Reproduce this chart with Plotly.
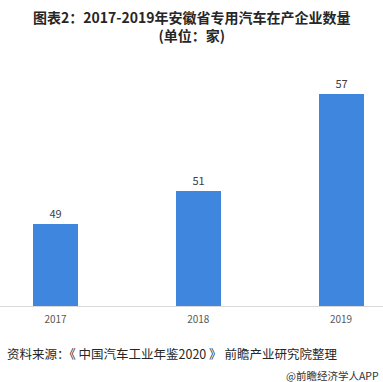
import plotly.graph_objects as go

years = ["2017", "2018", "2019"]
counts = [49, 51, 57]

title_line1 = "图表2：2017-2019年安徽省专用汽车在产企业数量"
title_line2 = "(单位：家)"
source_text = "资料来源：《 中国汽车工业年鉴2020 》 前瞻产业研究院整理"
credit_text = "@前瞻经济学人APP"

W, H = 383, 382
font_cjk = "Noto Sans CJK SC, Microsoft YaHei, sans-serif"

fig = go.Figure(go.Bar(
    x=list(range(len(years))),
    y=counts,
    width=0.315,
    marker=dict(color="#3f86df", line=dict(width=0)),
    text=[str(v) for v in counts],
    textposition="outside",
    textfont=dict(size=11, color="#404040", family=font_cjk),
    cliponaxis=False,
))

fig.update_layout(
    width=W, height=H,
    margin=dict(l=0, r=0, t=78, b=76),
    paper_bgcolor="white", plot_bgcolor="white",
    showlegend=False,
    bargap=0,
    xaxis=dict(
        tickmode="array", tickvals=list(range(len(years))), ticktext=years,
        range=[-0.389, 2.294],
        showline=True, linecolor="#d9d9d9", linewidth=1,
        showgrid=False, zeroline=False, ticks="",
        ticklabelstandoff=4,
        tickfont=dict(size=10, color="#595959", family=font_cjk),
    ),
    yaxis=dict(range=[43.9, 58], visible=False, showgrid=False),
    font=dict(family=font_cjk),
)

fig.add_annotation(text="<b>" + title_line1 + "</b><br><b>" + title_line2 + "</b>",
                   xref="paper", yref="paper", x=0.5, y=1.0, yshift=31,
                   xanchor="center", yanchor="bottom", showarrow=False,
                   font=dict(size=14, color="#262626", family=font_cjk), align="center")
fig.add_annotation(text=source_text, xref="paper", yref="paper", x=0, y=0, xshift=5, yshift=-47,
                   xanchor="left", yanchor="middle", showarrow=False,
                   font=dict(size=12.5, color="#262626", family=font_cjk))
fig.add_annotation(text=credit_text, xref="paper", yref="paper", x=1, y=0, xshift=-2, yshift=-69,
                   xanchor="right", yanchor="middle", showarrow=False,
                   font=dict(size=10.5, color="#333333", family=font_cjk))

fig.write_html("out.html", config={"displayModeBar": False},
               post_script="document.body.style.margin='0';document.body.style.overflow='hidden';")
